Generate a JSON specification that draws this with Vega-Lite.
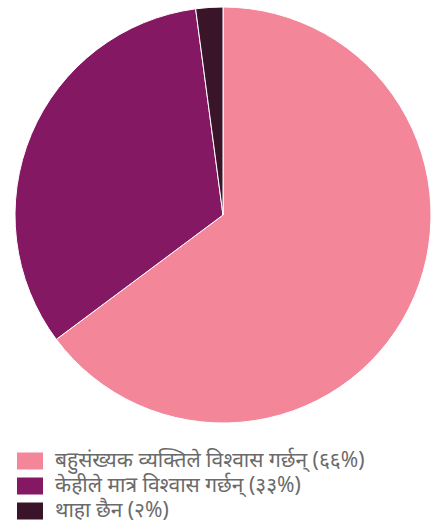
{
  "$schema": "https://vega.github.io/schema/vega-lite/v6.json",
  "width": 446,
  "height": 430,
  "autosize": {"type": "none"},
  "padding": {"left": 0, "top": 0, "right": 0, "bottom": 94},
  "background": "white",
  "view": {"stroke": null},
  "data": {
    "values": [
      {"label": "बहुसंख्यक व्यक्तिले विश्वास गर्छन् (६६%)", "value": 64.8, "idx": 1},
      {"label": "केहीले मात्र विश्वास गर्छन् (३३%)", "value": 33.1, "idx": 2},
      {"label": "थाहा छैन (२%)", "value": 2.1, "idx": 3}
    ]
  },
  "mark": {"type": "arc", "outerRadius": 208, "stroke": "white", "strokeWidth": 1},
  "encoding": {
    "theta": {"field": "value", "type": "quantitative", "stack": true},
    "order": {"field": "idx", "type": "quantitative"},
    "color": {
      "field": "label",
      "type": "nominal",
      "sort": {"field": "idx"},
      "scale": {
        "domain": ["बहुसंख्यक व्यक्तिले विश्वास गर्छन् (६६%)", "केहीले मात्र विश्वास गर्छन् (३३%)", "थाहा छैन (२%)"],
        "range": ["#f4869a", "#841862", "#3a1428"]
      },
      "legend": {
        "title": null,
        "orient": "none",
        "legendX": 17,
        "legendY": 448,
        "padding": 0,
        "symbolType": "M-1,-0.654L1,-0.654L1,0.654L-1,0.654Z",
        "symbolSize": 676,
        "symbolStrokeWidth": 0,
        "symbolOpacity": 1,
        "labelFont": "Noto Sans",
        "labelFontSize": 21,
        "labelColor": "#6a6a6a",
        "labelOffset": 12,
        "rowPadding": 2,
        "labelLimit": 420
      }
    }
  }
}
